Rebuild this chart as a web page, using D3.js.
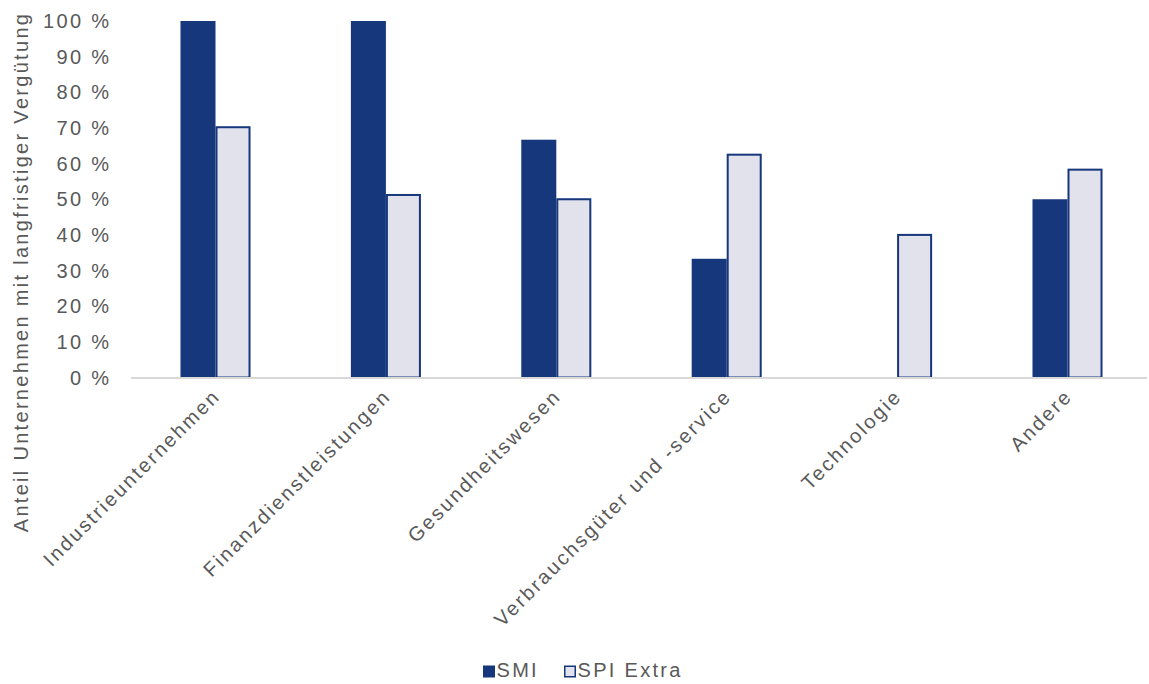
<!DOCTYPE html>
<html>
<head>
<meta charset="utf-8">
<script src="https://cdn.jsdelivr.net/npm/d3@7"></script>
<style>
  html, body { margin: 0; padding: 0; background: #fff; }
  svg { display: block; font-family: "Liberation Sans", Arial, sans-serif; }
</style>
</head>
<body>
<svg id="chart" width="1149" height="684"></svg>
<script>
const categories = ["Industrieunternehmen", "Finanzdienstleistungen", "Gesundheitswesen",
  "Verbrauchsgüter und -service", "Technologie", "Andere"];
const seriesNames = ["SMI", "SPI Extra"];
const smiValues = [100, 100, 66.7, 33.3, 0, 50];
const spiExtraValues = [70.2, 51.2, 50, 62.5, 40, 58.3];
const yTicks = [0, 10, 20, 30, 40, 50, 60, 70, 80, 90, 100];
const yTitle = "Anteil Unternehmen mit langfristiger Vergütung";

const navy = "#16377b";
const pale = "#e1e2ec";
const textColor = "#595959";
const fontSize = 20;
const spacing = 2.3;

const svg = d3.select("#chart");
const width = 1149, height = 684;
const plotLeft = 130.3, plotRight = 1152.7, plotTop = 21, plotBottom = 377.5;

const x = d3.scaleBand().domain(categories)
  .range([plotLeft, plotRight]).paddingInner(0.589).paddingOuter(0.2945);
const xs = d3.scaleBand().domain(seriesNames).range([0, x.bandwidth()]);
const y = d3.scaleLinear().domain([0, 100]).range([plotBottom, plotTop]);

// y tick labels
svg.append("g").selectAll("text").data(yTicks).join("text")
  .attr("x", 109 + spacing).attr("y", d => y(d)).attr("dy", "0.35em")
  .attr("text-anchor", "end").attr("fill", textColor)
  .attr("font-size", fontSize).attr("letter-spacing", spacing)
  .text(d => d + " %");

// y title
svg.append("text")
  .attr("transform", `translate(28,272) rotate(-90)`)
  .attr("text-anchor", "middle").attr("fill", textColor)
  .attr("font-size", fontSize).attr("letter-spacing", spacing)
  .text(yTitle);

const groups = svg.append("g").selectAll("g").data(categories).join("g")
  .attr("transform", d => `translate(${x(d)},0)`);

// SMI bars
groups.append("rect")
  .attr("x", xs("SMI")).attr("width", xs.bandwidth())
  .attr("y", (d, i) => y(smiValues[i]))
  .attr("height", (d, i) => y(0) - y(smiValues[i]))
  .attr("fill", navy);

// SPI Extra bars
groups.append("rect")
  .attr("x", xs("SPI Extra") + 1).attr("width", xs.bandwidth() - 2)
  .attr("y", (d, i) => y(spiExtraValues[i]))
  .attr("height", (d, i) => y(0) - y(spiExtraValues[i]))
  .attr("fill", pale).attr("stroke", navy).attr("stroke-width", 2);

// baseline
svg.append("line")
  .attr("x1", 131).attr("x2", width - 2)
  .attr("y1", y(0) + 0.5).attr("y2", y(0) + 0.5)
  .attr("stroke", "#d9d9d9").attr("stroke-width", 2);

// category labels
svg.append("g").selectAll("text").data(categories).join("text")
  .attr("transform", d => `translate(${x(d) + x.bandwidth() / 2 + 6},${y(0) + 20}) rotate(-45)`)
  .attr("text-anchor", "end").attr("fill", textColor)
  .attr("font-size", fontSize).attr("letter-spacing", spacing)
  .text(d => d);

// legend
const legend = svg.append("g");
const items = [
  { name: seriesNames[0], fill: navy, stroke: navy, x: 483 },
  { name: seriesNames[1], fill: pale, stroke: navy, x: 564 }
];
items.forEach(it => {
  legend.append("rect").attr("x", it.x + 0.75).attr("y", 666.25).attr("width", 10.5).attr("height", 10.5)
    .attr("fill", it.fill).attr("stroke", it.stroke).attr("stroke-width", 1.5);
  legend.append("text").attr("x", it.x + 13.5).attr("y", 676.5)
    .attr("fill", textColor).attr("font-size", fontSize).attr("letter-spacing", spacing)
    .text(it.name);
});
</script>
</body>
</html>
